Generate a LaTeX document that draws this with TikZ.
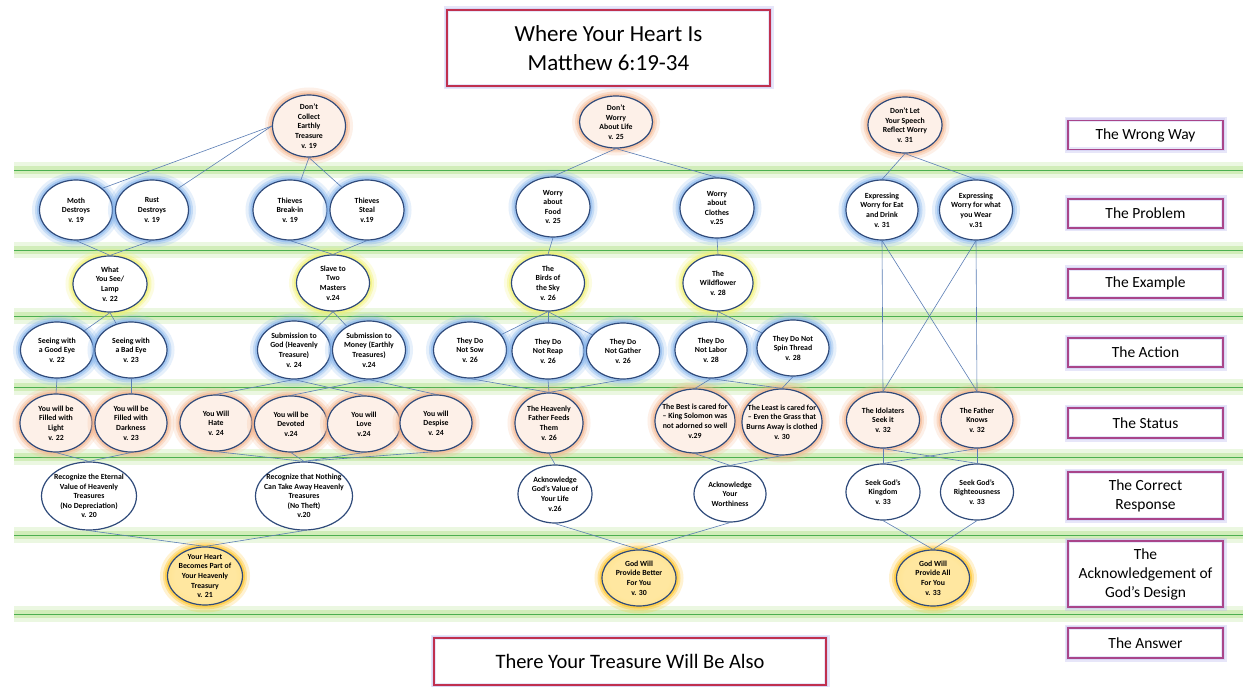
\documentclass[tikz,border=0pt]{standalone}
\usepackage{fontspec}
\setmainfont{Carlito}
\usetikzlibrary{shapes.geometric}
\definecolor{mtnavy}{HTML}{2F4A7A}
\definecolor{mtlink}{HTML}{5A7DB5}
\definecolor{mtband}{HTML}{B3E38A}
\definecolor{mtline}{HTML}{4CAF50}
\definecolor{mtpeach}{HTML}{F5B48C}
\definecolor{mtpeachin}{HTML}{FBDCC8}
\definecolor{mtpeachlt}{HTML}{FDF0E8}
\definecolor{mtsky}{HTML}{86B4EC}
\definecolor{mtskyin}{HTML}{C9DDF7}
\definecolor{mtlemon}{HTML}{F2F26A}
\definecolor{mtlemonin}{HTML}{FAFAC2}
\definecolor{mtgold}{HTML}{FFC21C}
\definecolor{mtgoldin}{HTML}{FFD658}
\definecolor{mtgoldlt}{HTML}{FFE7A0}
\definecolor{mtred}{HTML}{C0304F}
\definecolor{mtpink}{HTML}{A9458A}
\definecolor{mtlilac}{HTML}{BDB9F0}

\pgfdeclareradialshading{mtpeachfade}{\pgfpoint{0bp}{0bp}}{color(0bp)=(mtpeachlt); color(25bp)=(mtpeachlt); color(50bp)=(mtpeachin); color(100bp)=(mtpeachin)}
\pgfdeclareradialshading{mtskyfade}{\pgfpoint{0bp}{0bp}}{color(0bp)=(white); color(28bp)=(white); color(50bp)=(mtskyin); color(100bp)=(mtskyin)}
\pgfdeclareradialshading{mtlemonfade}{\pgfpoint{0bp}{0bp}}{color(0bp)=(white); color(30bp)=(white); color(50bp)=(mtlemonin); color(100bp)=(mtlemonin)}
\pgfdeclareradialshading{mtgoldfade}{\pgfpoint{0bp}{0bp}}{color(0bp)=(mtgoldlt); color(20bp)=(mtgoldlt); color(50bp)=(mtgoldin); color(100bp)=(mtgoldin)}

\newcommand{\versefont}{\bfseries\fontsize{7.8}{9.6}\selectfont}

\tikzset{
  verse/.style={ellipse, draw=mtnavy, line width=1.2pt, align=center, inner sep=-14pt,
    minimum width=73pt, minimum height=58pt, font=\versefont},
  glow/.style={preaction={draw=#1, line width=15pt, opacity=.2},
    preaction={draw=#1, line width=9pt, opacity=.35},
    preaction={draw=#1, line width=5pt, opacity=.55}},
  rowwrong/.style={verse, glow=mtpeach, shading=mtpeachfade, shade},
  rowproblem/.style={verse, glow=mtsky, shading=mtskyfade, shade},
  rowexample/.style={verse, glow=mtlemon, shading=mtlemonfade, shade},
  rowaction/.style={verse, glow=mtsky, shading=mtskyfade, shade},
  rowstatus/.style={verse, glow=mtpeach, shading=mtpeachfade, shade},
  rowresponse/.style={verse, fill=white},
  rowdesign/.style={verse, glow=mtgold, shading=mtgoldfade, shade},
  link/.style={draw=mtlink, line width=0.6pt},
  boxframe/.style={rectangle, draw=#1, line width=1.3pt, fill=white, align=center, inner sep=0pt,
    preaction={draw=mtlilac, line width=7pt, opacity=.35},
    postaction={draw=mtlilac, line width=4pt, opacity=.35},
    postaction={draw=#1, line width=1.3pt}},
  rowlabel/.style={boxframe=mtpink, minimum width=155pt, minimum height=29pt,
    font=\fontsize{15.5}{19}\selectfont},
}

\begin{document}
\begin{tikzpicture}[x=1pt, y=-1pt]
  \fill[white] (0,0) rectangle (1243,687);
  \useasboundingbox (0,0) rectangle (1243,687);
  % green row separators
  \foreach \y in {170,250,316,387,457,535,614}{
    \draw[mtband, line width=16pt, opacity=.25] (14,\y) -- (1243,\y);
    \draw[mtband, line width=8pt, opacity=.45] (14,\y) -- (1243,\y);
    \draw[mtline, line width=0.9pt] (14,\y) -- (1243,\y);
  }
  % title and answer
  \node[boxframe=mtred, minimum width=323pt, minimum height=76pt, font=\fontsize{23}{29}\selectfont]
    (title) at (608.5,48) {Where Your Heart Is\\Matthew 6:19-34};
  \node[boxframe=mtred, minimum width=392pt, minimum height=47pt, font=\fontsize{20.5}{24}\selectfont]
    (answer) at (630,661.5) {There Your Treasure Will Be Also};
  % row labels
  \node[rowlabel] (lblwrong) at (1145.5,135) {The Wrong Way};
  \node[rowlabel] (lblproblem) at (1145.5,213.5) {The Problem};
  \node[rowlabel] (lblexample) at (1145.5,283.5) {The Example};
  \node[rowlabel] (lblaction) at (1145.5,352.5) {The Action};
  \node[rowlabel, minimum height=30pt] (lblstatus) at (1145.5,423) {The Status};
  \node[rowlabel, minimum height=47pt] (lblresponse) at (1145.5,495.5) {The Correct\\Response};
  \node[rowlabel, minimum height=66pt] (lbldesign) at (1145.5,574) {The\\Acknowledgement of\\God’s Design};
  \node[rowlabel, minimum height=30pt] (lblanswer) at (1145.5,643) {The Answer};

  % the wrong way
  \node[rowwrong, minimum height=62pt] (collect) at (309,126) {Don’t\\Collect\\Earthly\\Treasure\\v. 19};
  \node[rowwrong, minimum height=52pt] (dontworry) at (616,122) {Don’t\\Worry\\About Life\\v. 25};
  \node[rowwrong, minimum width=74pt, minimum height=56pt] (speech) at (905,125) {Don’t Let\\Your Speech\\Reflect Worry\\v. 31};
  % the problem
  \node[rowproblem, minimum height=60pt] (moth) at (76,210) {Moth\\Destroys\\v. 19};
  \node[rowproblem, minimum height=60pt] (rust) at (152,210) {Rust\\Destroys\\v. 19};
  \node[rowproblem, minimum width=74pt, minimum height=60pt] (breakin) at (290,210) {Thieves\\Break-in\\v. 19};
  \node[rowproblem, minimum width=74pt, minimum height=60pt] (steal) at (367,210) {Thieves\\Steal\\v.19};
  \node[rowproblem, minimum width=74pt, minimum height=60pt] (food) at (553,207) {Worry\\about\\Food\\v. 25};
  \node[rowproblem, minimum width=74pt, minimum height=60pt] (clothes) at (717,208) {Worry\\about\\Clothes\\v.25};
  \node[rowproblem, minimum width=72pt, minimum height=60pt] (eatdrink) at (882,210) {Expressing\\Worry for Eat\\and Drink\\v. 31};
  \node[rowproblem, minimum height=60pt] (wear) at (976,210) {Expressing\\Worry for what\\you Wear\\v.31};
  % the example
  \node[rowexample, minimum width=74pt, minimum height=56pt] (lamp) at (110,284) {What\\You See/\\Lamp\\v. 22};
  \node[rowexample, minimum height=56pt] (slave) at (333,283) {Slave to\\Two\\Masters\\v.24};
  \node[rowexample, minimum height=56pt] (birds) at (548,283) {The\\Birds of\\the Sky\\v. 26};
  \node[rowexample, minimum width=70pt, minimum height=56pt] (wildflower) at (718,283) {The\\Wildflower\\v. 28};
  % the action
  \node[rowaction, minimum height=56pt] (goodeye) at (57,350) {Seeing with\\a Good Eye\\v. 22};
  \node[rowaction, minimum width=72pt, minimum height=56pt] (badeye) at (131,350) {Seeing with\\a Bad Eye\\v. 23};
  \node[rowaction] (subgod) at (294,350) {Submission to\\God (Heavenly\\Treasure)\\v. 24};
  \node[rowaction] (submoney) at (369,350) {Submission to\\Money (Earthly\\Treasures)\\v.24};
  \node[rowaction, minimum height=56pt] (sow) at (470,350) {They Do\\Not Sow\\v. 26};
  \node[rowaction, minimum width=72pt, minimum height=56pt] (reap) at (548,351) {They Do\\Not Reap\\v. 26};
  \node[rowaction, minimum height=56pt] (gather) at (623,351) {They Do\\Not Gather\\v. 26};
  \node[rowaction, minimum width=72pt, minimum height=56pt] (labor) at (711,350) {They Do\\Not Labor\\v. 28};
  \node[rowaction, minimum width=72pt, minimum height=56pt] (spin) at (793,348) {They Do Not\\Spin Thread\\v. 28};
  % the status
  \node[rowstatus, minimum width=72pt] (light) at (56,423) {You will be\\Filled with\\Light\\v. 22};
  \node[rowstatus, minimum width=72pt] (darkness) at (131,423) {You will be\\Filled with\\Darkness\\v. 23};
  \node[rowstatus, minimum width=72pt, minimum height=56pt] (hate) at (216,423) {You Will\\Hate\\v. 24};
  \node[rowstatus, minimum height=56pt] (devoted) at (291,424) {You will be\\Devoted\\v.24};
  \node[rowstatus, minimum height=56pt] (love) at (364,424) {You will\\Love\\v.24};
  \node[rowstatus, minimum width=72pt, minimum height=56pt] (despise) at (436,423) {You will\\Despise\\v. 24};
  \node[rowstatus, minimum width=68pt, minimum height=60pt] (feeds) at (549,423) {The Heavenly\\Father Feeds\\Them\\v. 26};
  \node[rowstatus, minimum width=80pt, minimum height=64pt] (best) at (695,421) {The Best is cared for\\– King Solomon was\\not adorned so well\\v.29};
  \node[rowstatus, minimum width=80pt, minimum height=66pt] (least) at (782,422) {The Least is cared for\\– Even the Grass that\\Burns Away is clothed\\v. 30};
  \node[rowstatus, minimum height=56pt] (idolaters) at (883,420) {The Idolaters\\Seek it\\v. 32};
  \node[rowstatus, minimum width=72pt, minimum height=56pt] (fatherknows) at (977,420) {The Father\\Knows\\v. 32};
  % the correct response
  \node[rowresponse, minimum width=95pt, minimum height=68pt] (eternal) at (89,496) {Recognize the Eternal\\Value of Heavenly\\Treasures\\(No Depreciation)\\v. 20};
  \node[rowresponse, minimum width=97pt, minimum height=68pt] (nothing) at (304,496) {Recognize that Nothing\\Can Take Away Heavenly\\Treasures\\(No Theft)\\v.20};
  \node[rowresponse, minimum width=74pt] (ackvalue) at (555,494) {Acknowledge\\God’s Value of\\Your Life\\v.26};
  \node[rowresponse, minimum width=72pt, minimum height=56pt] (worthiness) at (730,494) {Acknowledge\\Your\\Worthiness};
  \node[rowresponse, minimum width=74pt, minimum height=56pt] (kingdom) at (883,492) {Seek God’s\\Kingdom\\v. 33};
  \node[rowresponse, minimum height=56pt] (righteous) at (977,492) {Seek God’s\\Righteousness\\v. 33};
  % the acknowledgement of god's design
  \node[rowdesign, minimum width=75pt] (heart) at (205,576) {Your Heart\\Becomes Part of\\Your Heavenly\\Treasury\\v. 21};
  \node[rowdesign, minimum width=74pt, minimum height=56pt] (better) at (639,578) {God Will\\Provide Better\\For You\\v. 30};
  \node[rowdesign, minimum height=56pt] (all) at (933,578) {God Will\\Provide All\\For You\\v. 33};

  % wrong way -> problem
  \draw[link] (collect.west) -- (moth.north east);
  \draw[link] (collect.west) -- (rust.north east);
  \foreach \dst in {breakin, steal} \draw[link] (collect.south) -- (\dst);
  \foreach \dst in {food, clothes} \draw[link] (dontworry.south) -- (\dst.north);
  \foreach \dst in {eatdrink, wear} \draw[link] (speech.south) -- (\dst.north);
  % problem -> example, and speech worries straight down to the status row
  \foreach \src/\dst in {moth/lamp, rust/lamp, breakin/slave, steal/slave, food/birds, clothes/wildflower,
      eatdrink/idolaters, eatdrink/fatherknows, wear/fatherknows, wear/idolaters}
    \draw[link] (\src.south) -- (\dst.north);
  % example -> action
  \foreach \src/\dst in {lamp/goodeye, lamp/badeye, slave/subgod, slave/submoney, birds/sow, birds/reap,
      birds/gather, wildflower/labor, wildflower/spin}
    \draw[link] (\src.south) -- (\dst);
  % action -> status
  \foreach \src/\dst in {goodeye/light, badeye/darkness, subgod/hate, subgod/love, submoney/devoted,
      submoney/despise, sow/feeds, reap/feeds, gather/feeds, labor/best, labor/least, spin/least}
    \draw[link] (\src.south) -- (\dst.north);
  % status -> correct response
  \foreach \src/\dst in {light/eternal, darkness/eternal, hate/nothing, devoted/nothing, love/nothing,
      despise/nothing, feeds/ackvalue, best/worthiness, least/worthiness, idolaters/kingdom,
      idolaters/righteous, fatherknows/righteous, fatherknows/kingdom}
    \draw[link] (\src.south) -- (\dst.north);
  % correct response -> god's design
  \foreach \src/\dst in {eternal/heart, nothing/heart, ackvalue/better, worthiness/better, kingdom/all, righteous/all}
    \draw[link] (\src.south) -- (\dst.north);
\end{tikzpicture}
\end{document}
